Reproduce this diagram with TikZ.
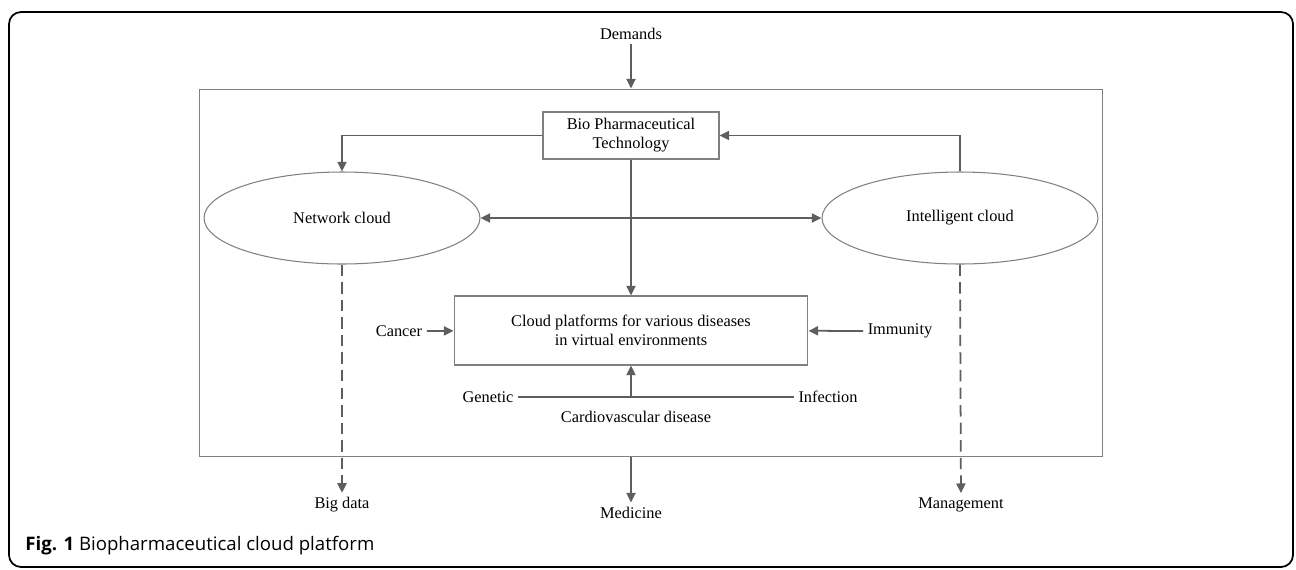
\documentclass[tikz,border=0pt]{standalone}
\usepackage{fontspec}
\setmainfont{Liberation Serif}
\newfontfamily\capfont{Open Sans}
\usetikzlibrary{arrows.meta,shapes.geometric}

\definecolor{linegray}{HTML}{5E5E5E}
\definecolor{boxgray}{HTML}{808080}

\tikzset{
  lbl/.style={inner sep=2.5pt, font=\fontsize{9.3pt}{10.8pt}\selectfont},
  box/.style={lbl, draw=boxgray, line width=0.6pt, align=center},
  cloudnode/.style={box, ellipse, inner sep=0pt, minimum width=5.52cm, minimum height=1.84cm},
  arr/.style={draw=linegray, line width=1pt, -{Triangle[length=5.5pt,width=5.2pt]}},
  dblarr/.style={arr, {Triangle[length=5.5pt,width=5.2pt]}-{Triangle[length=5.5pt,width=5.2pt]}},
  dasharr/.style={arr, dash pattern=on 6.5pt off 3.5pt},
  plain/.style={draw=linegray, line width=1pt}
}

\begin{document}
\begin{tikzpicture}[x=0.02cm,y=-0.02cm]
% \draw [help lines,step=50] (0,0) grid (1296,569) ;
\useasboundingbox (0,0) rectangle (1296,569) ;

\draw [line width=1pt, rounded corners=0.24cm] (9,12) rectangle (1293,567) ;

\node [box, minimum width=18.08cm, minimum height=7.36cm] (frame) at (651,273) {} ;

\node [lbl] (demands) at (631,34) {Demands} ;
\node [box, minimum width=3.52cm, minimum height=0.94cm] (bio) at (631,135.5) {Bio Pharmaceutical\\Technology} ;
\node [cloudnode] (netcloud) at (342,218) {Network cloud} ;
\node [cloudnode] (intcloud) at (960,218) {Intelligent cloud} ;
\node [box, minimum width=7.08cm, minimum height=1.38cm] (platform) at (631,330.5) {Cloud platforms for various diseases\\in virtual environments} ;

\node [lbl] (cancer)    at (399,331) {Cancer} ;
\node [lbl] (immunity)  at (900,331) {Immunity} ;
\node [lbl] (genetic)   at (488,397) {Genetic} ;
\node [lbl] (infection) at (828,397) {Infection} ;
\node [lbl] (cardio)    at (636,417) {Cardiovascular disease} ;
\coordinate (junction) at (631,397) ;

\node [lbl] (bigdata)    at (342,505) {Big data} ;
\node [lbl] (medicine)   at (631,513) {Medicine} ;
\node [lbl] (management) at (961,505) {Management} ;

\draw [arr] (demands) -- (demands |- frame.north) ;
\draw [arr] (bio.west) -| (netcloud.north) ;
\draw [arr] (intcloud.north) |- (bio.east) ;
\draw [dblarr] (netcloud) -- (intcloud) ;
\draw [arr] (bio) -- (platform) ;
\draw [arr] (cancer) -- (platform) ;
\draw [arr] (immunity) -- (platform) ;
\draw [plain] (genetic) -- (infection) ;
\draw [arr] (junction) -- (platform.south) ;

\draw [dasharr] (netcloud.south) -- (bigdata) ;
\draw [dasharr] (intcloud.south) -- (management) ;
\draw [arr] (medicine |- frame.south) -- (medicine) ;

\node [anchor=base west, inner sep=0pt, font=\capfont\fontsize{10.6pt}{13pt}\selectfont] (caption) at (25,550) {\textbf{Fig. 1} Biopharmaceutical cloud platform} ;
\end{tikzpicture}
\end{document}
